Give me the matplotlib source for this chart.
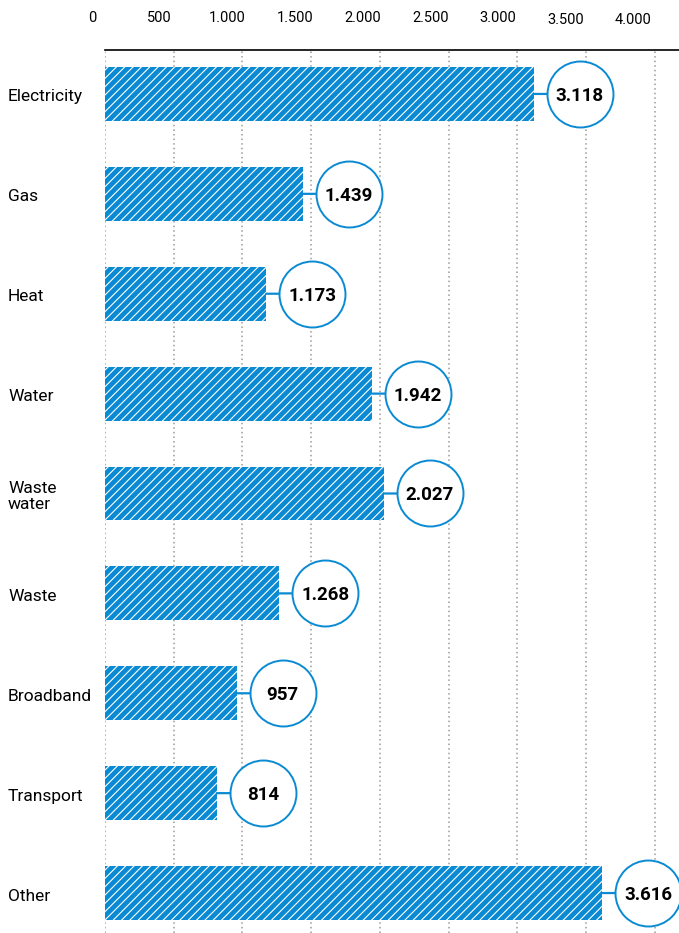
import matplotlib.pyplot as plt
import matplotlib.transforms as mtransforms

# Daten
categories = ["Electricity", "Gas", "Heat", "Water", "Waste\nwater",
              "Waste", "Broadband", "Transport", "Other"]
values = [3118, 1439, 1173, 1942, 2027, 1268, 957, 814, 3616]
value_labels = ["3.118", "1.439", "1.173", "1.942", "2.027",
                "1.268", "957", "814", "3.616"]
ticks = [0, 500, 1000, 1500, 2000, 2500, 3000, 3500, 4000]
tick_labels = ["0", "500", "1.000", "1.500", "2.000", "2.500",
               "3.000", "3.500", "4.000"]

blue = "#0a8ad2"
plt.rcParams['font.family'] = ['Roboto', 'DejaVu Sans']
plt.rcParams['hatch.linewidth'] = 0.8

fig = plt.figure(figsize=(6.79, 9.33), dpi=100)
ax = fig.add_axes([105 / 679, 0, 1 - 105 / 679, 1 - 50 / 933])

ypos = list(range(len(categories)))
ax.set_xlim(0, 4175)
ax.set_ylim(8.40, -0.44)

# gepunktete Gitterlinien
for t in ticks:
    ax.axvline(t, color="#9a9a9a", lw=1.1, ls=(0, (1, 2)), zorder=0)

ax.barh(ypos, values, height=0.54, color=blue, edgecolor="white",
        hatch="////", lw=0, zorder=2)

# Kreise mit Werten
circ = mtransforms.offset_copy(ax.transData, fig=fig, x=46, y=0, units="dots")
for y, v, lab in zip(ypos, values, value_labels):
    ax.annotate("", xy=(v, y), xytext=(13, 0), textcoords="offset pixels",
                arrowprops=dict(arrowstyle="-", color=blue, lw=1.6,
                                shrinkA=0, shrinkB=0), zorder=3)
    ax.plot(v, y, "o", transform=circ, ms=47.5, mfc="white", mec=blue,
            mew=1.4, zorder=4, clip_on=False)
    ax.annotate(lab, xy=(v, y), xytext=(46, -2), textcoords="offset pixels",
                ha="center", va="center", fontsize=13.5, fontweight="bold",
                zorder=5)

# Kategorien links
for y, c in zip(ypos, categories):
    ax.annotate(c, xy=(0, y), xytext=(-97, -3), textcoords="offset pixels",
                ha="left", va="center", fontsize=12.5, linespacing=1.15)

# Achse oben
ax.spines[["right", "bottom", "left"]].set_visible(False)
ax.spines["top"].set_linewidth(1.2)
ax.set_xticks([])
ax.set_yticks([])
for t, tl in zip(ticks, tick_labels):
    ax.annotate(tl, xy=(t, 1), xycoords=("data", "axes fraction"),
                xytext=(-13 - t / 1000 * 2.2, 32 - (t >= 3500) * 2),
                textcoords="offset pixels",
                ha="center", va="center", fontsize=10.5)

fig.savefig("out.png", dpi=100)
